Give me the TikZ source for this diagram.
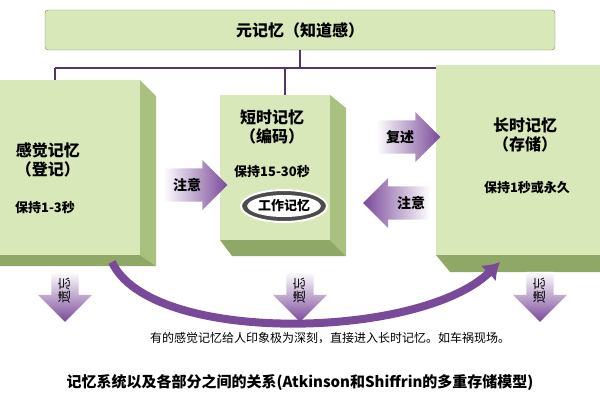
\documentclass[tikz,border=0pt]{standalone}
\usepackage{fontspec}
\setmainfont{Noto Sans CJK SC}
\usetikzlibrary{shapes.arrows,shapes.geometric,arrows.meta}
\definecolor{gfront}{HTML}{D9E8B8}
\definecolor{gside}{HTML}{A9C07E}
\definecolor{gbot}{HTML}{8FA866}
\definecolor{pur}{HTML}{7A4A9A}
\tikzset{
  front/.style={fill=gfront},
  side/.style={fill=gside},
  bot/.style={fill=gbot},
  conn/.style={draw=pur!70!black,line width=1.5pt},
  big/.style={font=\bfseries\fontsize{16}{19}\selectfont,align=center},
  mid/.style={font=\bfseries\fontsize{13}{15}\selectfont,align=center},
  rarrow/.style={single arrow,draw=none,shading=axis,left color=white,right color=pur,minimum height=64pt,minimum width=50pt,single arrow head extend=6pt,inner sep=5pt,font=\bfseries\fontsize{14}{16}\selectfont},
  larrow/.style={rarrow,shape border rotate=180,right color=white,left color=pur},
  darrow/.style={single arrow,shape border rotate=270,draw=none,shading=axis,top color=white,bottom color=pur,minimum height=50pt,minimum width=54pt,single arrow head extend=10pt,inner sep=4pt,font=\fontsize{13}{15}\selectfont},
}
\begin{document}
\begin{tikzpicture}[x=1pt,y=-1pt]
\useasboundingbox (0,0) rectangle (600,400);
% top bar
\node[draw=gside!70!black,fill=gfront,rounded corners=3pt,minimum width=510pt,minimum height=40pt,big] (meta) at (300,30) {元记忆（知道感）};
\coordinate (m1) at (55,68);
\coordinate (m2) at (555,68);
\draw[conn] (meta.south) -- (300,68);
\draw[conn] (m1) -- (m2);
\draw[conn] (m1) -- (55,82);
\draw[conn] (285,68) -- (285,95);
% left box
\fill[side] (140,80) -- (156,96) -- (156,266) -- (140,255) -- cycle;
\fill[bot] (0,255) -- (140,255) -- (156,266) -- (0,266) -- cycle;
\node[front,minimum width=142pt,minimum height=175pt,anchor=north west,inner sep=0] (sens) at (-2,80) {};
\node[big] at (48,160) {感觉记忆\\（登记）};
\node[mid] at (45,208) {保持1-3秒};
% middle box
\fill[side] (330,95) -- (346,108) -- (346,256) -- (330,240) -- cycle;
\fill[bot] (220,240) -- (330,240) -- (346,256) -- (232,256) -- cycle;
\node[front,minimum width=110pt,minimum height=145pt,anchor=north west,inner sep=0] (short) at (220,95) {};
\node[big] at (272,127) {短时记忆\\（编码）};
\node[mid] at (272,172) {保持15-30秒};
\node[ellipse,draw=white,line width=2pt,fill=gray!60!black,minimum width=86pt,minimum height=32pt] (wm) at (284,206) {};
\node[ellipse,fill=white,minimum width=68pt,minimum height=22pt,mid,inner sep=0] at (284,206) {工作记忆};
% right box
\fill[bot] (436,255) -- (600,255) -- (600,272) -- (450,272) -- cycle;
\node[front,minimum width=166pt,minimum height=190pt,anchor=north west,inner sep=0] (long) at (436,65) {};
\node[big] at (525,135) {长时记忆\\（存储）};
\node[mid] at (527,188) {保持1秒或永久};
% horizontal arrows
\node[rarrow] (a1) at (187,185) {注意\hspace{12pt}};
\node[rarrow] (a2) at (400,137) {复述\hspace{12pt}};
\node[larrow] (a3) at (405,203) {\hspace{12pt}注意};
% down arrows
\foreach \x/\n in {65/d1,300/d2,540/d3}{
  \node[darrow] (\n) at (\x,290) {\rotatebox{90}{遗忘}};
}
% curved arrow
\draw[pur,line width=8pt,-{Latex[length=16pt,width=22pt]}] (112,262) .. controls (150,345) and (420,340) .. (500,262);
% texts
\node[font=\fontsize{12}{14}\selectfont] (note) at (330,338) {有的感觉记忆给人印象极为深刻，直接进入长时记忆。如车祸现场。};
\node[font=\bfseries\fontsize{15}{18}\selectfont] (title) at (300,382) {记忆系统以及各部分之间的关系(Atkinson和Shiffrin的多重存储模型)};
\end{tikzpicture}
\end{document}
